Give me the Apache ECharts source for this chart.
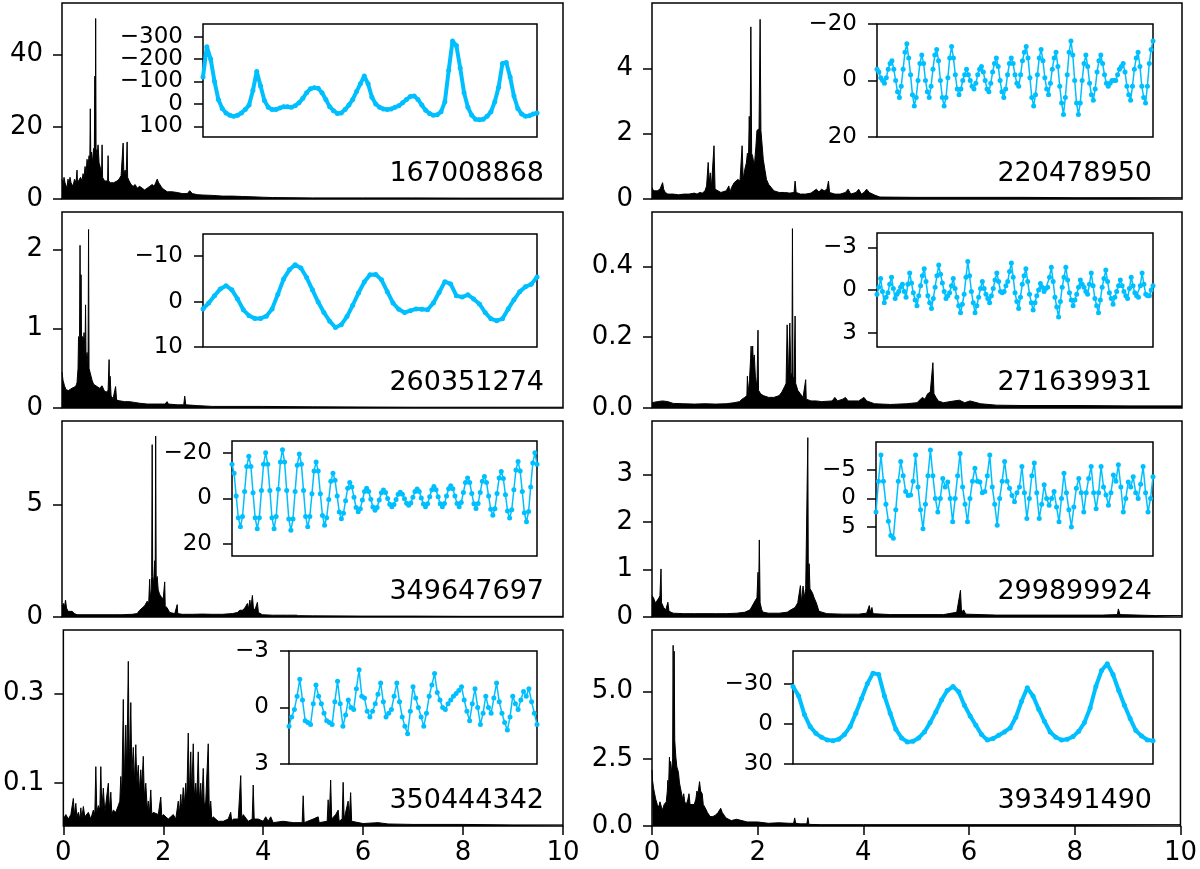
<!DOCTYPE html>
<html>
<head>
<meta charset="utf-8">
<script src="https://cdn.jsdelivr.net/npm/echarts@6/dist/echarts.min.js"></script>
<style>
    html, body { margin: 0; padding: 0; background: #fff; }
    #chart { width: 1200px; height: 869px; }
</style>
</head>
<body>
<div id="chart"></div>
<script>
// ---- data ----
// periodograms: [frequency, power]
var pg167008868 = [[0,5.5],[0.02,3.5],[0.04,6],[0.06,4.5],[0.08,5],[0.1,3],[0.12,5.5],[0.14,4],[0.16,6],[0.18,4.5],[0.2,5],[0.22,3.5],[0.25,5.5],[0.28,4.5],[0.3,8],[0.31,4.5],[0.34,5],[0.37,6],[0.4,5],[0.42,7],[0.44,6],[0.46,9],[0.48,7],[0.5,11],[0.52,9],[0.54,12],[0.555,10],[0.565,25],[0.575,11],[0.59,13],[0.61,10],[0.63,14],[0.645,12],[0.655,34],[0.665,13],[0.672,50],[0.68,14],[0.7,12],[0.72,15],[0.74,10],[0.76,9],[0.79,7],[0.8,15],[0.81,6],[0.85,5],[0.88,5.5],[0.91,5],[0.92,12],[0.93,5],[0.97,4.5],[1.0,4],[1.03,4.5],[1.06,4],[1.1,5],[1.14,5.5],[1.18,6.5],[1.2,7],[1.22,15.5],[1.235,7],[1.26,8],[1.28,6.5],[1.3,15.8],[1.31,6],[1.34,5],[1.38,4],[1.42,3.5],[1.46,4],[1.5,3],[1.55,3.5],[1.6,3],[1.65,2.5],[1.7,3],[1.75,3.5],[1.8,4],[1.84,3.5],[1.87,4.5],[1.9,5.5],[1.93,4.5],[1.95,4],[2.0,3],[2.05,2.5],[2.1,2],[2.2,2],[2.3,1.8],[2.4,1.5],[2.5,1.5],[2.55,2.3],[2.6,1.5],[2.7,1.2],[2.8,1.1],[3.0,1],[3.2,0.8],[3.4,0.8],[3.6,0.7],[3.8,0.6],[4.0,0.5],[4.2,0.4],[5,0.3],[6,0.3],[7,0.3],[8,0.25],[9,0.25],[10,0.25]];
var pg220478950 = [[0,0.35],[0.03,0.25],[0.06,0.3],[0.1,0.25],[0.15,0.3],[0.18,0.35],[0.2,0.5],[0.22,0.3],[0.25,0.2],[0.3,0.15],[0.4,0.15],[0.5,0.13],[0.6,0.15],[0.7,0.15],[0.8,0.18],[0.85,0.15],[0.9,0.2],[0.95,0.18],[1.0,0.25],[1.03,0.4],[1.06,1.12],[1.08,0.5],[1.1,0.8],[1.12,0.35],[1.15,0.3],[1.17,1.63],[1.19,0.3],[1.22,0.25],[1.3,0.2],[1.4,0.25],[1.45,0.4],[1.47,0.2],[1.5,0.35],[1.55,0.5],[1.58,0.55],[1.62,0.6],[1.66,0.55],[1.7,1.63],[1.72,0.6],[1.75,0.9],[1.78,1.1],[1.8,1.4],[1.82,1.2],[1.835,2.53],[1.85,1.4],[1.865,5.27],[1.88,1.4],[1.9,1.3],[1.93,1.0],[1.96,1.6],[1.98,2.1],[2.0,2.1],[2.02,2.15],[2.04,5.5],[2.055,2.1],[2.07,2.1],[2.1,1.2],[2.13,0.9],[2.16,0.6],[2.2,0.45],[2.25,0.35],[2.3,0.25],[2.4,0.2],[2.5,0.2],[2.6,0.18],[2.68,0.2],[2.7,0.55],[2.72,0.2],[2.8,0.15],[2.9,0.15],[3.0,0.18],[3.1,0.3],[3.15,0.22],[3.2,0.3],[3.25,0.25],[3.3,0.3],[3.33,0.55],[3.35,0.2],[3.45,0.15],[3.55,0.15],[3.65,0.2],[3.7,0.3],[3.75,0.15],[3.85,0.2],[3.9,0.3],[3.95,0.15],[4.0,0.2],[4.05,0.3],[4.1,0.2],[4.2,0.12],[4.3,0.06],[5,0.05],[6,0.05],[7,0.05],[8,0.04],[9,0.04],[10,0.04]];
var pg260351274 = [[0,0.45],[0.02,0.35],[0.05,0.28],[0.08,0.23],[0.1,0.22],[0.13,0.22],[0.16,0.24],[0.2,0.25],[0.24,0.26],[0.28,0.28],[0.3,0.32],[0.32,0.5],[0.33,0.9],[0.34,0.85],[0.35,0.9],[0.36,2.05],[0.37,0.9],[0.38,1.68],[0.39,0.8],[0.41,0.9],[0.43,0.85],[0.44,0.95],[0.46,0.7],[0.47,1.3],[0.48,0.6],[0.5,0.7],[0.52,0.55],[0.53,2.25],[0.54,0.5],[0.56,0.45],[0.58,0.4],[0.6,0.35],[0.63,0.3],[0.66,0.28],[0.7,0.27],[0.75,0.25],[0.8,0.28],[0.84,0.22],[0.88,0.2],[0.92,0.22],[0.94,0.61],[0.95,0.2],[0.96,0.4],[0.98,0.15],[1.02,0.12],[1.05,0.12],[1.07,0.27],[1.09,0.1],[1.15,0.09],[1.25,0.08],[1.35,0.08],[1.45,0.07],[1.55,0.06],[1.7,0.05],[1.9,0.05],[2.05,0.05],[2.1,0.08],[2.12,0.05],[2.3,0.04],[2.43,0.04],[2.45,0.15],[2.47,0.04],[2.7,0.03],[3,0.02],[4,0.02],[5,0.015],[7,0.01],[10,0.01]];
var pg271639931 = [[0,0.015],[0.1,0.018],[0.2,0.02],[0.3,0.018],[0.4,0.013],[0.6,0.012],[0.8,0.011],[1.0,0.012],[1.2,0.011],[1.4,0.012],[1.55,0.015],[1.65,0.018],[1.7,0.025],[1.75,0.03],[1.79,0.035],[1.8,0.09],[1.81,0.04],[1.84,0.08],[1.86,0.14],[1.87,0.175],[1.88,0.14],[1.9,0.175],[1.91,0.13],[1.93,0.15],[1.95,0.09],[1.98,0.06],[2.0,0.22],[2.01,0.05],[2.05,0.04],[2.1,0.035],[2.2,0.03],[2.3,0.03],[2.4,0.035],[2.45,0.045],[2.5,0.06],[2.53,0.07],[2.55,0.235],[2.57,0.07],[2.6,0.24],[2.62,0.09],[2.64,0.1],[2.65,0.507],[2.66,0.09],[2.68,0.08],[2.7,0.26],[2.71,0.07],[2.75,0.05],[2.8,0.04],[2.85,0.03],[2.9,0.08],[2.91,0.025],[3.0,0.02],[3.1,0.02],[3.2,0.018],[3.4,0.02],[3.45,0.03],[3.5,0.02],[3.6,0.025],[3.65,0.03],[3.7,0.02],[3.9,0.02],[4.0,0.03],[4.05,0.02],[4.2,0.012],[4.5,0.01],[4.8,0.012],[5.0,0.015],[5.1,0.03],[5.15,0.025],[5.2,0.04],[5.25,0.045],[5.3,0.128],[5.32,0.04],[5.36,0.03],[5.4,0.02],[5.5,0.015],[5.7,0.02],[5.8,0.022],[5.9,0.015],[6.0,0.02],[6.2,0.012],[6.5,0.008],[7,0.007],[8,0.007],[9,0.006],[10,0.006]];
var pg349647697 = [[0,0.5],[0.03,0.6],[0.05,0.45],[0.07,0.75],[0.09,0.4],[0.12,0.25],[0.15,0.2],[0.2,0.25],[0.25,0.15],[0.3,0.1],[0.5,0.1],[0.8,0.1],[1.0,0.1],[1.2,0.1],[1.4,0.12],[1.5,0.15],[1.55,0.3],[1.6,0.4],[1.65,0.5],[1.7,0.7],[1.73,0.6],[1.75,1.68],[1.76,0.8],[1.78,1.2],[1.79,1.8],[1.8,7.66],[1.81,1.8],[1.83,1.5],[1.85,2.5],[1.86,1.6],[1.87,8.04],[1.88,1.6],[1.9,1.8],[1.92,1.2],[1.95,1.0],[1.98,0.9],[2.02,0.8],[2.05,1.56],[2.06,0.5],[2.1,0.4],[2.15,0.2],[2.25,0.15],[2.3,0.55],[2.31,0.15],[2.4,0.12],[2.6,0.12],[2.8,0.13],[3.0,0.12],[3.2,0.12],[3.4,0.15],[3.5,0.2],[3.55,0.3],[3.6,0.3],[3.65,0.4],[3.7,0.6],[3.72,0.35],[3.75,0.75],[3.77,0.4],[3.8,0.96],[3.82,0.4],[3.85,0.3],[3.9,0.65],[3.92,0.2],[4.0,0.1],[4.2,0.08],[4.5,0.08],[4.68,0.08],[4.7,0.15],[4.72,0.06],[5,0.05],[6,0.04],[7,0.04],[8,0.03],[10,0.03]];
var pg299899924 = [[0,0.45],[0.03,0.4],[0.06,0.3],[0.1,0.35],[0.13,0.4],[0.15,0.45],[0.17,1.01],[0.18,0.3],[0.22,0.2],[0.26,0.15],[0.3,0.31],[0.32,0.12],[0.36,0.1],[0.4,0.08],[0.6,0.07],[0.8,0.07],[1.0,0.07],[1.2,0.07],[1.4,0.07],[1.6,0.08],[1.75,0.1],[1.85,0.15],[1.9,0.25],[1.95,0.35],[1.98,0.4],[2.0,0.94],[2.01,0.3],[2.025,1.62],[2.04,0.3],[2.07,0.15],[2.1,0.1],[2.2,0.08],[2.4,0.08],[2.55,0.1],[2.62,0.15],[2.7,0.2],[2.75,0.3],[2.8,0.66],[2.82,0.3],[2.85,0.65],[2.87,0.4],[2.9,0.6],[2.92,0.6],[2.94,3.77],[2.95,0.6],[2.965,1.12],[2.98,0.6],[3.0,0.6],[3.03,0.5],[3.06,0.4],[3.1,0.3],[3.15,0.12],[3.3,0.07],[3.6,0.06],[3.9,0.06],[4.05,0.08],[4.1,0.24],[4.12,0.1],[4.15,0.2],[4.17,0.07],[4.5,0.05],[5.0,0.05],[5.5,0.05],[5.75,0.1],[5.78,0.06],[5.82,0.56],[5.84,0.1],[5.88,0.15],[5.92,0.06],[6.5,0.04],[7.5,0.04],[8.5,0.04],[8.78,0.05],[8.8,0.17],[8.83,0.05],[9.5,0.03],[10,0.03]];
var pg350444342 = [[0,0.02],[0.05,0.03],[0.1,0.02],[0.15,0.03],[0.2,0.066],[0.22,0.03],[0.25,0.055],[0.27,0.025],[0.3,0.035],[0.33,0.02],[0.35,0.045],[0.37,0.02],[0.4,0.048],[0.43,0.025],[0.5,0.035],[0.55,0.02],[0.6,0.04],[0.63,0.03],[0.65,0.137],[0.67,0.035],[0.7,0.05],[0.73,0.04],[0.75,0.137],[0.77,0.04],[0.8,0.089],[0.83,0.035],[0.9,0.1],[0.92,0.04],[0.95,0.08],[0.97,0.03],[1.0,0.04],[1.05,0.035],[1.1,0.05],[1.13,0.06],[1.15,0.115],[1.17,0.07],[1.2,0.287],[1.22,0.1],[1.25,0.23],[1.27,0.12],[1.3,0.372],[1.32,0.13],[1.35,0.28],[1.37,0.12],[1.4,0.18],[1.42,0.1],[1.45,0.186],[1.47,0.1],[1.5,0.14],[1.52,0.08],[1.55,0.13],[1.57,0.09],[1.6,0.16],[1.62,0.07],[1.65,0.1],[1.68,0.04],[1.7,0.06],[1.72,0.03],[1.75,0.085],[1.77,0.03],[1.8,0.035],[1.9,0.03],[1.95,0.069],[1.97,0.025],[2.0,0.03],[2.1,0.02],[2.2,0.03],[2.25,0.02],[2.3,0.06],[2.32,0.03],[2.35,0.075],[2.37,0.04],[2.4,0.09],[2.42,0.05],[2.45,0.1],[2.47,0.06],[2.5,0.212],[2.52,0.07],[2.55,0.17],[2.57,0.07],[2.6,0.188],[2.62,0.07],[2.65,0.1],[2.67,0.06],[2.7,0.17],[2.72,0.06],[2.75,0.1],[2.77,0.05],[2.8,0.133],[2.82,0.05],[2.85,0.06],[2.9,0.188],[2.92,0.04],[2.95,0.06],[2.97,0.02],[3.0,0.025],[3.1,0.015],[3.2,0.015],[3.3,0.02],[3.35,0.035],[3.37,0.015],[3.4,0.02],[3.5,0.02],[3.55,0.117],[3.57,0.02],[3.6,0.03],[3.7,0.015],[3.78,0.02],[3.8,0.096],[3.82,0.02],[3.9,0.02],[4.0,0.015],[4.05,0.025],[4.1,0.015],[4.15,0.025],[4.2,0.012],[4.4,0.015],[4.6,0.012],[4.78,0.012],[4.8,0.072],[4.82,0.012],[5.0,0.02],[5.1,0.025],[5.12,0.012],[5.28,0.015],[5.3,0.063],[5.32,0.015],[5.35,0.107],[5.37,0.02],[5.45,0.03],[5.5,0.04],[5.52,0.015],[5.58,0.02],[5.6,0.102],[5.62,0.02],[5.7,0.06],[5.72,0.02],[5.75,0.079],[5.77,0.015],[5.8,0.015],[6.0,0.01],[6.3,0.012],[6.5,0.009],[7,0.008],[8,0.008],[9,0.007],[10,0.007]];
var pg393491490 = [[0,2.09],[0.01,1.7],[0.03,1.4],[0.05,1.2],[0.07,1.0],[0.1,0.8],[0.13,0.7],[0.15,0.9],[0.18,0.7],[0.2,0.6],[0.23,0.8],[0.25,0.87],[0.27,0.9],[0.29,1.3],[0.3,1.7],[0.31,1.2],[0.33,2.56],[0.34,1.8],[0.35,2.4],[0.37,2.0],[0.39,2.5],[0.4,6.72],[0.41,2.6],[0.42,6.5],[0.43,3.2],[0.45,2.6],[0.47,2.2],[0.5,2.0],[0.52,1.6],[0.55,1.3],[0.58,1.0],[0.6,1.2],[0.62,0.9],[0.65,0.8],[0.68,1.0],[0.7,1.2],[0.72,0.8],[0.75,0.8],[0.8,0.8],[0.83,1.0],[0.85,1.3],[0.87,1.2],[0.9,1.65],[0.92,1.3],[0.95,1.2],[0.97,0.8],[1.0,0.7],[1.05,0.5],[1.1,0.35],[1.15,0.35],[1.2,0.4],[1.25,0.5],[1.3,0.66],[1.33,0.5],[1.35,0.45],[1.4,0.3],[1.5,0.2],[1.6,0.25],[1.7,0.2],[1.8,0.15],[2.0,0.15],[2.2,0.1],[2.4,0.12],[2.6,0.1],[2.68,0.1],[2.7,0.3],[2.72,0.1],[2.8,0.08],[2.93,0.08],[2.95,0.31],[2.97,0.06],[3.2,0.05],[4,0.05],[6,0.05],[8,0.05],[10,0.05]];

// light curves (inset), evenly spaced in time
var lc167008868 = [-120,-255,-200,-100,-20,20,40,50,55,50,40,25,5,-60,-145,-80,-15,15,25,25,18,12,12,15,8,-5,-25,-50,-68,-72,-70,-50,-20,12,30,42,40,25,5,-20,-55,-90,-125,-90,-30,0,15,22,25,22,15,8,-5,-20,-33,-35,-20,5,28,42,50,48,35,-10,-150,-280,-260,-160,-50,15,50,68,70,68,55,35,-10,-75,-180,-185,-120,-35,20,45,55,52,45,40];
var lc220478950 = [-4,-3,-1,0,1,-1,-4,-6,-7,-4,0,4,6,2,-4,-10,-13,-8,-2,5,9,6,0,-6,-9,-6,0,4,6,2,-4,-9,-11,-7,0,6,9,6,-1,-8,-12,-8,-2,3,5,3,0,-2,-4,-2,0,2,3,1,-2,-4,-5,-3,0,3,4,1,-3,-6,-8,-5,0,4,6,3,-2,-6,-8,-6,-2,1,2,-2,-7,-10,-12,-8,-1,6,9,5,-2,-8,-11,-7,-1,3,5,1,-4,-8,-10,-5,2,8,12,6,-2,-10,-14,-9,0,8,12,8,0,-6,-9,-5,1,5,7,3,-3,-7,-9,-6,-2,1,2,1,0,0,0,-2,-4,-5,-6,-3,2,5,7,2,-4,-8,-10,-5,2,6,8,2,-6,-11,-14];
var lc260351274 = [1.6,0.3,-1.3,-2.8,-3.5,-2.6,-0.6,1.8,3.1,3.7,3.7,3.2,1.6,-1.6,-5,-7,-8.1,-7.4,-5.3,-2.6,0.1,2.4,4.3,5.7,5.1,3.3,0.8,-1.9,-4.3,-5.9,-6,-4.8,-2.2,0.3,1.7,2.4,2,1.6,1.7,1.8,0.3,-2,-4.4,-3.9,-1.3,-1,-1.5,-0.6,0.5,2.4,3.8,4.2,3.8,1.6,-0.4,-2.2,-3.3,-3.8,-5.4];
var lc271639931 = [0.3,-0.2,-0.8,0.1,0.9,0.5,0.2,-0.4,-0.9,-0.1,0.6,0.3,0.1,-0.2,-0.4,0.1,0.5,-0.4,-1.2,-0.5,0.2,0.7,1.1,0.4,-0.3,-1.0,-1.5,-0.6,0.4,0.9,1.3,0.6,-0.2,-1.0,-1.75,-1.1,-0.5,0.1,0.6,0.4,0.2,-0.3,-0.8,-0.1,0.5,1.1,1.6,1.0,0.3,-0.9,-2.0,-1.0,0.1,0.9,1.6,1.1,0.5,-0.1,-0.6,-0.1,0.3,0.6,0.9,0.4,-0.1,-0.7,-1.2,-0.6,0.1,0.2,0.1,-0.3,-0.6,-1.3,-1.9,-0.9,0.2,0.8,1.3,0.5,-0.4,-1.0,-1.5,-0.6,0.3,0.9,1.4,0.9,0.4,0.0,-0.45,-0.2,0.1,-0.1,-0.2,-0.9,-1.6,-0.6,0.5,1.2,1.9,0.8,-0.2,-0.9,-1.6,-0.7,0.2,0.7,1.1,0.7,0.3,-0.2,-0.7,-0.4,-0.2,0.1,0.3,-0.4,-1.2,-0.3,0.6,1.1,1.6,0.7,-0.2,-0.8,-1.4,-0.6,0.2,0.6,1.0,0.5,0.1,-0.3,-0.7,-0.3,0.1,0.4,0.6,-0.1,-0.9,-0.3,0.2,0.4,0.5,-0.3,-1.2,-0.4,0.3,0.4,0.4,0.0,-0.3];
var lc349647697 = [-15,-11,-1,8.5,12.5,8,-3,-14,-18.5,-14,-2.5,8.5,13.3,8.5,-3.5,-15,-20,-15,-3.5,8.5,13.3,8,-4,-16,-21.4,-16,-3.5,9,14,9,-3,-14.5,-19.5,-15,-3.5,8,12.5,8,-2,-12,-16,-12,-2,7.5,11.8,8.5,0.5,-7.5,-11,-8,-1,6,8.9,6.5,1,-4.5,-7,-5,-0.5,4,5.9,4.5,0.7,-3,-4.4,-3,0.4,3.8,5.2,4,0.7,-2.5,-3.7,-2.6,0,2.6,3.7,2.7,0.5,-1.8,-2.7,-1.8,0.2,2.1,3,2,-0.5,-3,-4.1,-3,-0.2,2.5,3.7,2.4,-0.7,-3.8,-5.2,-3.8,-0.7,2.4,3.7,2.3,-1,-4.2,-5.6,-4.2,-1,2.3,3.7,1.8,-2.6,-7,-8.9,-7,-2.2,2.4,4.4,2.3,-2.6,-7.5,-9.6,-7,-1,4.8,7.4,4.5,-2.2,-9,-11.8,-8.7,-1.6,5.5,8.6,5,-3.8,-12.5,-16.2,-12,-3,6.3,10.3,5.8,-5,-15.5,-20,-15];
var lc299899924 = [2.4,-3,-7.6,-3,1,4,6.5,7,2,-3,-6.5,-4,-1.2,-0.5,-0.6,-3,-7.6,-2,2,5.3,1,-4,-8.5,-4,0,2.4,0,-3.5,-2,-2.9,0,4.1,0,-4,-7.9,-2,1,4.1,0,-3,-5.3,-3,-2.9,-1,-1.2,-4,-7.6,-2,1,4.7,0,-3,-6.5,-3,-1.8,-0.5,0.6,-1,-2,-5.6,-1,3.5,0,-4,-6.2,-1,3.5,1,-2.4,0,1.2,0,-1.2,1.5,4.1,0,-4.4,-1,2,5,1.5,-1.8,-3.5,-1,2.4,-1,-3.5,-5.6,-1,1.8,-1,-5.6,-2,-0.6,1.2,-1,-4.1,-3,-5.9,-2,2.4,0,-2.9,-2,-3.8,-1,0,-2.5,-5.6,-1,2.4,0,-3.8];
var lc350444342 = [1.0,0.5,0.1,-0.6,-1.5,-0.4,0.7,0.8,0.9,-0.2,-1.2,-0.6,-0.2,0.3,0.7,0.8,0.9,-0.3,-1.4,-0.2,1.0,0.4,-0.4,0.0,0.1,-1.0,-2.0,-0.6,-0.5,0.2,0.5,0.2,-0.2,-0.7,-1.3,-0.3,0.5,0.3,0.1,-0.6,-1.3,-0.3,0.5,1.0,1.4,0.2,-1.1,-0.5,0.0,0.5,1.0,0.3,-0.6,-1.2,-1.8,-0.8,-0.4,0.0,0.1,-0.2,-0.4,-0.6,-0.75,-0.9,-1.1,-0.4,0.2,0.7,-0.2,-1.0,0.0,0.9,0.3,-0.6,0.0,0.3,-0.5,-1.3,-0.3,0.3,0.8,1.2,0.5,-0.6,-0.2,0.1,-0.4,-0.85,-0.6,-1.0,-0.3,0.3,0.9];
var lc393491490 = [-28,-21,-7,2,7,10,12,12.5,11.5,8,2,-8,-19,-30,-38,-37,-21,-8,4,10.5,13.5,13,10.5,6,-1,-9,-18,-25,-28,-24,-14,-6,1,8,12,11,8.5,6,3,-5,-17,-27,-21,-11,-2,6,10,12,11.5,9.5,5.5,-1,-12,-28,-40,-45,-37,-25,-14,-4,5,9,12,12.5];

// tick labels
var tk167008868 = [0, 20, 40],        itk167008868 = [-300, -200, -100, 0, 100];
var tk220478950 = [0, 2, 4],          itk220478950 = [-20, 0, 20];
var tk260351274 = [0, 1, 2],          itk260351274 = [-10, 0, 10];
var tk271639931 = [0, 0.2, 0.4],      itk271639931 = [-3, 0, 3];
var tk349647697 = [0, 5],             itk349647697 = [-20, 0, 20];
var tk299899924 = [0, 1, 2, 3],       itk299899924 = [-5, 0, 5];
var tk350444342 = [0.1, 0.3],         itk350444342 = [-3, 0, 3];
var tk393491490 = [0, 2.5, 5],        itk393491490 = [-30, 0, 30];

// ---- layout ----
var COLS = [{left: 62, width: 501}, {left: 652, width: 530}];
var ROWS = [3, 212, 421, 630];
var PH = 196;
var CYAN = '#00bfff';
var FONT = 'DejaVu Sans';

var panels = [
    {id: '167008868', col: 0, row: 0, pg: pg167008868, lc: lc167008868, yMin: 0, yMax: 54.3, ticks: tk167008868, dec: 0,
        box: [203, 537, 24, 137], iMin: -356, iMax: 147, iTicks: itk167008868, smooth: true},
    {id: '260351274', col: 0, row: 1, pg: pg260351274, lc: lc260351274, yMin: 0, yMax: 2.47, ticks: tk260351274, dec: 0,
        box: [203, 537, 234, 347], iMin: -14.9, iMax: 10, iTicks: itk260351274, smooth: true},
    {id: '349647697', col: 0, row: 2, pg: pg349647697, lc: lc349647697, yMin: 0, yMax: 8.71, ticks: tk349647697, dec: 0,
        box: [232, 537, 441, 556], iMin: -25.2, iMax: 25.3, iTicks: itk349647697, smooth: false},
    {id: '350444342', col: 0, row: 3, pg: pg350444342, lc: lc350444342, yMin: 0.0045, yMax: 0.442, ticks: tk350444342, dec: 1,
        box: [289, 537, 651, 764], iMin: -3, iMax: 3, iTicks: itk350444342, smooth: false},
    {id: '220478950', col: 1, row: 0, pg: pg220478950, lc: lc220478950, yMin: 0, yMax: 6.0, ticks: tk220478950, dec: 0,
        box: [877, 1153, 24, 137], iMin: -20, iMax: 20, iTicks: itk220478950, smooth: false},
    {id: '271639931', col: 1, row: 1, pg: pg271639931, lc: lc271639931, yMin: 0, yMax: 0.554, ticks: tk271639931, dec: 1,
        box: [877, 1153, 233, 347], iMin: -4, iMax: 4, iTicks: itk271639931, smooth: false},
    {id: '299899924', col: 1, row: 2, pg: pg299899924, lc: lc299899924, yMin: 0, yMax: 4.12, ticks: tk299899924, dec: 0,
        box: [876, 1153, 442, 556], iMin: -9.9, iMax: 10.1, iTicks: itk299899924, smooth: false},
    {id: '393491490', col: 1, row: 3, pg: pg393491490, lc: lc393491490, yMin: 0, yMax: 7.29, ticks: tk393491490, dec: 1,
        box: [793, 1153, 651, 764], iMin: -54.6, iMax: 30, iTicks: itk393491490, smooth: true}
];

function minusFmt(v) {
    return v < 0 ? '\u2212' + (-v) : String(v);
}

function insetAxis(gridIndex, p, vals) {
    return {gridIndex: gridIndex, type: 'value', inverse: true, min: p.iMin, max: p.iMax, position: 'left', offset: 0,
        axisLine: {show: false},
        axisTick: {show: true, length: 9, customValues: vals, lineStyle: {color: '#000', width: 1.5}},
        axisLabel: {customValues: vals, color: '#000', fontSize: 23, fontFamily: FONT, margin: 20,
            showMinLabel: true, showMaxLabel: true, hideOverlap: false, formatter: minusFmt},
        splitLine: {show: false}};
}

var grids = [], xAxes = [], yAxes = [], series = [], texts = [];

panels.forEach(function (p) {
    var c = COLS[p.col], top = ROWS[p.row];
    var gi = grids.length;
    var bottomRow = p.row === 3;

    // periodogram
    grids.push({left: c.left, top: top, width: c.width, height: PH,
        show: true, borderColor: '#000', borderWidth: 1.5, backgroundColor: '#fff'});
    xAxes.push({gridIndex: gi, type: 'value', min: 0, max: 10, interval: 2,
        axisLine: {show: false},
        axisTick: {show: bottomRow, length: 9, lineStyle: {color: '#000', width: 1.5}},
        axisLabel: {show: bottomRow, color: '#000', fontSize: 26, fontFamily: FONT, margin: 14},
        splitLine: {show: false}});
    var yi = yAxes.length;
    yAxes.push({gridIndex: gi, type: 'value', min: p.yMin, max: p.yMax,
        axisLine: {show: false},
        axisTick: {show: true, length: 9, customValues: p.ticks, lineStyle: {color: '#000', width: 1.5}},
        axisLabel: {customValues: p.ticks, color: '#000', fontSize: 26, fontFamily: FONT, margin: 19,
            showMinLabel: true, showMaxLabel: true, hideOverlap: false,
            formatter: function (v) { return v.toFixed(p.dec); }},
        splitLine: {show: false}});
    series.push({type: 'line', xAxisIndex: gi, yAxisIndex: yi, data: p.pg,
        symbol: 'none', animation: false, silent: true,
        lineStyle: {color: '#000', width: 1},
        areaStyle: {color: '#000', opacity: 1, origin: 'start'}});

    // inset light curve; tick labels split over two axes so tight ones are not dropped
    var ii = grids.length;
    var b = p.box;
    grids.push({left: b[0], top: b[2], width: b[1] - b[0], height: b[3] - b[2],
        show: true, borderColor: '#000', borderWidth: 1.5, backgroundColor: '#fff', z: 5});
    xAxes.push({gridIndex: ii, type: 'category', boundaryGap: false,
        data: p.lc.map(function (_, k) { return k; }),
        axisLine: {show: false}, axisTick: {show: false}, axisLabel: {show: false}, splitLine: {show: false}});
    var iy = yAxes.length;
    yAxes.push(insetAxis(ii, p, p.iTicks.filter(function (_, k) { return k % 2 === 0; })));
    yAxes.push(insetAxis(ii, p, p.iTicks.filter(function (_, k) { return k % 2 === 1; })));
    series.push({type: 'line', xAxisIndex: ii, yAxisIndex: iy, data: p.lc, z: 6,
        symbol: 'circle', symbolSize: 5, showSymbol: true, showAllSymbol: true,
        animation: false, silent: true,
        itemStyle: {color: CYAN},
        lineStyle: {color: CYAN, width: p.smooth ? 4 : 1.5}});

    texts.push({type: 'text', x: p.col === 0 ? 544 : 1152, y: top + 171, z: 10,
        style: {text: p.id, font: '27px "' + FONT + '"', fill: '#000',
            textAlign: 'right', textVerticalAlign: 'middle'}});
});

var chart = echarts.init(document.getElementById('chart'));
chart.setOption({
    animation: false,
    backgroundColor: '#fff',
    grid: grids,
    xAxis: xAxes,
    yAxis: yAxes,
    series: series,
    graphic: texts
});
</script>
</body>
</html>
